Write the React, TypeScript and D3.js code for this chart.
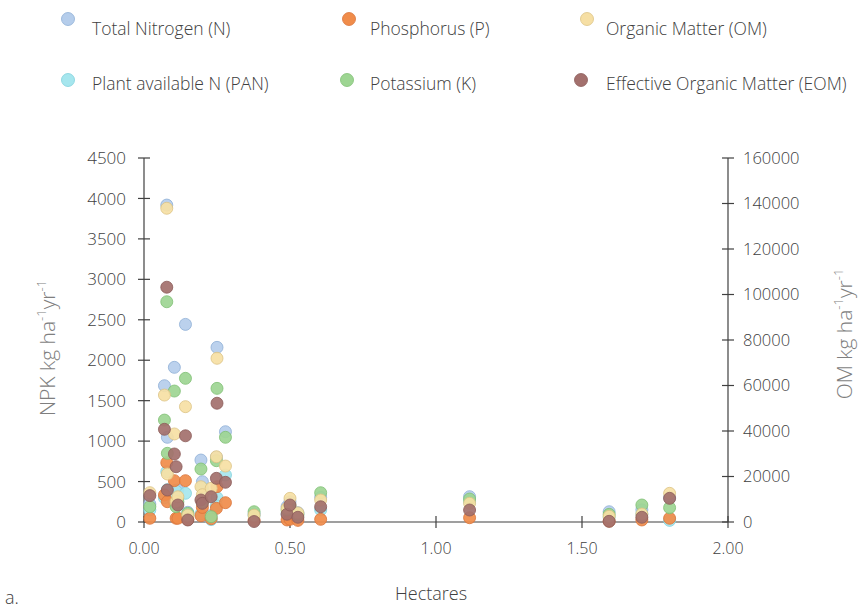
import { useRef, useEffect } from 'react';
import * as d3 from 'd3';

// one entry per site, hectares
const hectares = [0.02, 0.07, 0.078, 0.08, 0.104, 0.11, 0.116, 0.142, 0.15, 0.195, 0.2, 0.23, 0.25, 0.248, 0.279, 0.377, 0.49, 0.5, 0.527, 0.605, 1.115, 1.593, 1.705, 1.8];

// NPK kg ha-1 yr-1 (left axis)
const totalN = [222, 1685, 3918, 1047, 1912, 395, 395, 2443, 120, 766, 498, 80, 2159, 800, 1116, 100, 190, 250, 115, 305, 313, 127, 150, 300];
const pan = [150, 300, 622, 400, 250, 380, 300, 355, 80, 100, 420, 30, 300, 200, 581, 80, 100, 150, 100, 150, 250, 60, 100, 20];
const phosphorus = [46, 334, 733, 251, 511, 46, 46, 511, 30, 78, 180, 40, 437, 169, 239, 20, 25, 33, 20, 33, 53, 10, 25, 46];
const potassium = [189, 1260, 2723, 849, 1619, 189, 250, 1776, 107, 655, 250, 66, 1652, 758, 1047, 127, 150, 200, 90, 362, 284, 95, 210, 177];

// OM kg ha-1 yr-1 (right axis)
const organicMatter = [12900, 55800, 137900, 21100, 38700, 8900, 11100, 50700, 3000, 15500, 12000, 14800, 71960, 28700, 24600, 3000, 6000, 10400, 4000, 9670, 8200, 2500, 3500, 12600];
const effectiveOM = [11600, 40750, 103200, 14070, 29900, 24300, 7470, 37900, 880, 9670, 8200, 11100, 52200, 19200, 17450, 200, 3400, 7470, 2070, 6700, 5270, 300, 2070, 10400];

const xTicks = [0, 0.5, 1, 1.5, 2];
const leftTicks = [0, 500, 1000, 1500, 2000, 2500, 3000, 3500, 4000, 4500];
const rightTicks = [0, 20000, 40000, 60000, 80000, 100000, 120000, 140000, 160000];

const series = [
    { name: 'Total Nitrogen (N)', values: totalN, axis: 'left', fill: '#b5cdeb', stroke: '#8eaed6' },
    { name: 'Plant available N (PAN)', values: pan, axis: 'left', fill: '#a6e6ee', stroke: '#7fd0dc' },
    { name: 'Phosphorus (P)', values: phosphorus, axis: 'left', fill: '#f08c4a', stroke: '#d9733a' },
    { name: 'Potassium (K)', values: potassium, axis: 'left', fill: '#9dd592', stroke: '#7fbf74' },
    { name: 'Organic Matter (OM)', values: organicMatter, axis: 'right', fill: '#f6dfa4', stroke: '#dcc384' },
    { name: 'Effective Organic Matter (EOM)', values: effectiveOM, axis: 'right', fill: '#a3706d', stroke: '#8c5c59' },
];

// legend rows (series index per column)
const legendOrder = [
    [0, 2, 4],
    [1, 3, 5],
];

const App = () => {
    const ref = useRef<SVGSVGElement>(null);

    useEffect(() => {
        const svg = d3.select(ref.current);
        svg.selectAll('*').remove();

        const font = '"Open Sans", sans-serif';
        const axisColor = '#404040';

        const x = d3.scaleLinear().domain([0, 2]).range([144, 728]);
        const yLeft = d3.scaleLinear().domain([0, 4500]).range([522, 158]);
        const yRight = d3.scaleLinear().domain([0, 160000]).range([522, 158]);

        // axes lines
        const axes = svg.append('g').attr('stroke', axisColor).attr('stroke-width', 1.2);
        axes.append('line').attr('x1', 144).attr('x2', 144).attr('y1', 158).attr('y2', 522);
        axes.append('line').attr('x1', 728).attr('x2', 728).attr('y1', 158).attr('y2', 522);
        axes.append('line').attr('x1', 144).attr('x2', 728).attr('y1', 522).attr('y2', 522);

        axes.selectAll('.lt').data(leftTicks).enter().append('line')
            .attr('x1', 138).attr('x2', 150)
            .attr('y1', d => yLeft(d)).attr('y2', d => yLeft(d));
        axes.selectAll('.rt').data(rightTicks).enter().append('line')
            .attr('x1', 722).attr('x2', 734)
            .attr('y1', d => yRight(d)).attr('y2', d => yRight(d));
        axes.selectAll('.xt').data(xTicks).enter().append('line')
            .attr('x1', d => x(d)).attr('x2', d => x(d))
            .attr('y1', 516).attr('y2', 528);

        const labels = svg.append('g')
            .style('font-family', font)
            .style('font-weight', 300)
            .attr('fill', axisColor);

        labels.selectAll('.ll').data(leftTicks).enter().append('text')
            .attr('x', 126).attr('y', d => yLeft(d))
            .attr('dy', '0.36em')
            .attr('text-anchor', 'end')
            .style('font-size', '17px')
            .text(d => d);

        labels.selectAll('.rl').data(rightTicks).enter().append('text')
            .attr('x', 743).attr('y', d => yRight(d))
            .attr('dy', '0.36em')
            .style('font-size', '16.5px')
            .text(d => d);

        labels.selectAll('.xl').data(xTicks).enter().append('text')
            .attr('x', d => x(d)).attr('y', 554)
            .attr('text-anchor', 'middle')
            .style('font-size', '16px')
            .text(d => d.toFixed(2));

        // axis titles
        const title = (g, main: string, tx: number, ty: number) => {
            const t = g.append('text')
                .attr('transform', `translate(${tx}, ${ty}) rotate(-90)`)
                .attr('text-anchor', 'middle')
                .style('font-family', font)
                .style('font-weight', 300)
                .style('font-size', '21px')
                .attr('fill', '#7f7f7f');
            t.append('tspan').text(`${main} kg ha`);
            t.append('tspan').attr('dy', -9).style('font-size', '13px').text('-1');
            t.append('tspan').attr('dy', 9).text('yr');
            t.append('tspan').attr('dy', -9).style('font-size', '13px').text('-1');
        };
        title(svg, 'NPK', 55, 348);
        title(svg, 'OM', 852, 334);

        svg.append('text')
            .attr('x', 431).attr('y', 600)
            .attr('text-anchor', 'middle')
            .style('font-family', font)
            .style('font-weight', 300)
            .style('font-size', '18px')
            .attr('fill', axisColor)
            .text('Hectares');

        svg.append('text')
            .attr('x', 5).attr('y', 604)
            .style('font-family', font)
            .style('font-weight', 300)
            .style('font-size', '18px')
            .attr('fill', axisColor)
            .text('a.');

        // points
        const pts = svg.append('g');
        series.forEach(s => {
            const yS = s.axis === 'left' ? yLeft : yRight;
            pts.append('g').selectAll('circle')
                .data(s.values)
                .enter().append('circle')
                .attr('cx', (_, i) => x(hectares[i]))
                .attr('cy', d => yS(d))
                .attr('r', 6)
                .attr('fill', s.fill)
                .attr('fill-opacity', 0.92)
                .attr('stroke', s.stroke)
                .attr('stroke-width', 0.8);
        });

        // legend
        const markerX = [[68, 349, 587], [68, 347, 581]];
        const textX = [92, 370, 606];
        const markerY = [19, 80];
        const textY = [29, 84];
        const legend = svg.append('g')
            .style('font-family', font)
            .style('font-weight', 300)
            .style('font-size', '17.5px');
        legendOrder.forEach((row, r) => {
            row.forEach((si, c) => {
                const s = series[si];
                legend.append('circle')
                    .attr('cx', markerX[r][c]).attr('cy', markerY[r])
                    .attr('r', 6.5)
                    .attr('fill', s.fill)
                    .attr('stroke', s.stroke)
                    .attr('stroke-width', 0.8);
                legend.append('text')
                    .attr('x', textX[c]).attr('y', textY[r])
                    .attr('dy', '0.35em')
                    .attr('fill', axisColor)
                    .text(s.name);
            });
        });
    }, []);

    return (
        <svg ref={ref} width={858} height={608}
            style={{ position: 'absolute', left: 0, top: 0, background: '#fff' }}></svg>
    );
};

export default App;
